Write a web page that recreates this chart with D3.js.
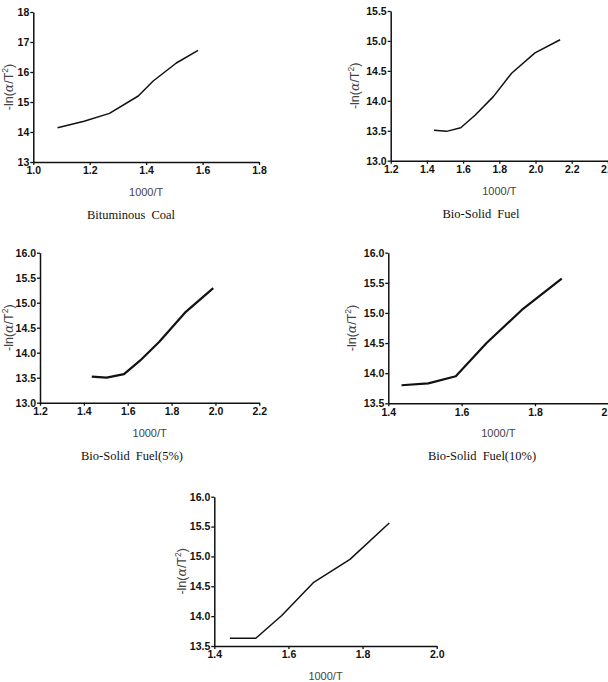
<!DOCTYPE html>
<html>
<head>
<meta charset="utf-8">
<script src="https://cdn.jsdelivr.net/npm/d3@7"></script>
<style>
  body { margin: 0; background: #fff; }
  svg { display: block; }
</style>
</head>
<body>
<div class="chart"></div>
<script>
(function() {

// 1000/T and -ln(alpha/T^2)
var coalX = [1.086, 1.18, 1.27, 1.372, 1.425, 1.507, 1.584];
var coalY = [14.14, 14.36, 14.62, 15.2, 15.7, 16.3, 16.72];

var bsfX = [1.439, 1.509, 1.587, 1.666, 1.767, 1.868, 1.997, 2.136];
var bsfY = [13.51, 13.49, 13.55, 13.76, 14.07, 14.46, 14.80, 15.02];

var bsf5X = [1.436, 1.504, 1.583, 1.656, 1.744, 1.861, 1.99];
var bsf5Y = [13.52, 13.50, 13.57, 13.84, 14.22, 14.80, 15.29];

var bsf10X = [1.436, 1.509, 1.584, 1.668, 1.764, 1.873];
var bsf10Y = [13.80, 13.83, 13.95, 14.50, 15.05, 15.57];

var bsf15X = [1.442, 1.512, 1.582, 1.667, 1.766, 1.872];
var bsf15Y = [13.63, 13.63, 14.01, 14.56, 14.95, 15.56];

var captions = ['Bituminous Coal', 'Bio-Solid Fuel', 'Bio-Solid Fuel(5%)', 'Bio-Solid Fuel(10%)', ''];

var svg = d3.select('.chart')
  .append('svg')
  .attr('width', 608)
  .attr('height', 682);

var panels = [
  {xs: coalX, ys: coalY, xd: [1.0, 1.8], yd: [13, 18], ystep: 1, yfmt: 'd',
   left: 33.3, right: 259, top: 12, bottom: 162, lw: 1.5, ylabX: 13, capX: 131},
  {xs: bsfX, ys: bsfY, xd: [1.2, 2.4], yd: [13, 15.5], ystep: 0.5, yfmt: '.1f',
   left: 390.7, right: 607.9, top: 11, bottom: 160.7, lw: 1.5, ylabX: 359, capX: 481},
  {xs: bsf5X, ys: bsf5Y, xd: [1.2, 2.2], yd: [13, 16], ystep: 0.5, yfmt: '.1f',
   left: 40, right: 259.3, top: 252.7, bottom: 402.7, lw: 2.2, ylabX: 13, capX: 132},
  {xs: bsf10X, ys: bsf10Y, xd: [1.4, 2.0], yd: [13.5, 16], ystep: 0.5, yfmt: '.1f',
   left: 388.3, right: 608.3, top: 252.7, bottom: 403.3, lw: 2.2, ylabX: 356, capX: 482},
  {xs: bsf15X, ys: bsf15Y, xd: [1.4, 2.0], yd: [13.5, 16], ystep: 0.5, yfmt: '.1f',
   left: 214.3, right: 436.7, top: 496.7, bottom: 646, lw: 1.5, ylabX: 186, capX: 0}
];

panels.forEach(function(p, i) {
  var x = d3.scaleLinear().domain(p.xd).range([p.left, p.right]);
  var y = d3.scaleLinear().domain(p.yd).range([p.bottom, p.top]);

  var xt = d3.range(p.xd[0], p.xd[1] + 0.001, 0.2);
  var yt = d3.range(p.yd[0], p.yd[1] + 0.001, p.ystep);

  var g = svg.append('g');

  var gx = g.append('g')
    .attr('transform', 'translate(0,' + p.bottom + ')')
    .call(d3.axisBottom(x).tickValues(xt).tickFormat(d3.format('.1f'))
      .tickSize(3).tickSizeOuter(0).tickPadding(2));

  var gy = g.append('g')
    .attr('transform', 'translate(' + p.left + ',0)')
    .call(d3.axisLeft(y).tickValues(yt).tickFormat(d3.format(p.yfmt))
      .tickSize(3).tickSizeOuter(0).tickPadding(1));

  [gx, gy].forEach(function(a) {
    a.select('.domain').attr('stroke', '#111').attr('stroke-width', 1.5);
    a.selectAll('.tick line').attr('stroke', '#111').attr('stroke-width', 1.3);
    a.selectAll('.tick text')
      .attr('fill', '#111')
      .style('font-family', 'Liberation Sans, Arial, sans-serif')
      .style('font-weight', 'bold')
      .style('font-size', '10.5px');
  });

  var pts = p.xs.map(function(d, j) { return [d, p.ys[j]]; });
  var line = d3.line()
    .x(function(d) { return x(d[0]); })
    .y(function(d) { return y(d[1]); });

  g.append('path')
    .datum(pts)
    .attr('d', line)
    .attr('fill', 'none')
    .attr('stroke', '#111')
    .attr('stroke-width', p.lw)
    .attr('stroke-linejoin', 'round');

  // axis titles
  g.append('text')
    .attr('x', (p.left + p.right) / 2)
    .attr('y', p.bottom + 34)
    .attr('text-anchor', 'middle')
    .attr('fill', '#444')
    .style('font-family', 'Liberation Sans, Arial, sans-serif')
    .style('font-size', '11px')
    .text('1000/T');

  var yl = g.append('text')
    .attr('transform', 'translate(' + p.ylabX + ',' + ((p.top + p.bottom) / 2) + ') rotate(-90)')
    .attr('text-anchor', 'middle')
    .attr('fill', '#444')
    .style('font-family', 'Liberation Sans, Arial, sans-serif')
    .style('font-size', '12.5px');
  yl.append('tspan').text('-ln(');
  yl.append('tspan').style('font-family', 'DejaVu Serif, serif').style('font-style', 'italic').text('α');
  yl.append('tspan').text('/T');
  yl.append('tspan').attr('dy', -5).style('font-size', '8.5px').text('2');
  yl.append('tspan').attr('dy', 5).text(')');

  if (captions[i]) {
    g.append('text')
      .attr('x', p.capX)
      .attr('y', p.bottom + 57)
      .attr('text-anchor', 'middle')
      .attr('fill', '#111')
      .style('font-family', 'Liberation Serif, Times New Roman, serif')
      .style('font-size', '12.5px')
      .style('word-spacing', '3px')
      .text(captions[i]);
  }
});

})();
</script>
</body>
</html>
